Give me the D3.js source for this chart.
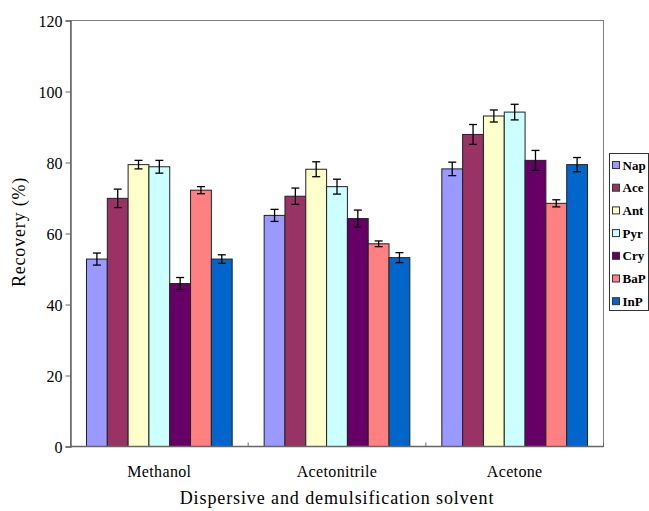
<!DOCTYPE html>
<html>
<head>
<meta charset="utf-8">
<script src="https://cdn.jsdelivr.net/npm/d3@7"></script>
<style>
  body { margin: 0; background: #fff; }
  svg { display: block; }
</style>
</head>
<body>
<svg id="chart" width="649" height="511"></svg>
<script>
const categories = ["Methanol", "Acetonitrile", "Acetone"];
const series = ["Nap", "Ace", "Ant", "Pyr", "Cry", "BaP", "InP"];
const colors = ["#9999FF", "#993366", "#FFFFCC", "#CCFFFF", "#660066", "#FF8080", "#0066CC"];
// values[series][category]
const values = [
  [52.8, 65.1, 78.2],
  [69.9, 70.5, 87.9],
  [79.4, 78.1, 93.1],
  [78.8, 73.2, 94.2],
  [45.9, 64.2, 80.6],
  [72.2, 57.1, 68.5],
  [52.8, 53.2, 79.4]
];
const errors = [
  [1.7, 1.7, 1.9],
  [2.6, 2.3, 2.8],
  [1.2, 2.1, 1.7],
  [1.8, 2.1, 2.2],
  [1.7, 2.4, 2.8],
  [1.0, 0.8, 1.0],
  [1.2, 1.4, 2.0]
];
const yTicks = [0, 20, 40, 60, 80, 100, 120];

(function () {
const FONT = "'Liberation Serif'";
const svg = d3.select("#chart");
const mLeft = 70.5, mRight = 603.5, mTop = 20.5, mBottom = 446.5;

const x0 = d3.scaleBand().domain(categories).range([mLeft, mRight]).paddingInner(0.18).paddingOuter(0.09);
const x1 = d3.scaleBand().domain(series).range([0, x0.bandwidth()]).padding(0);
const y = d3.scaleLinear().domain([0, 120]).range([mBottom, mTop]);

// plot frame
svg.append("rect")
  .attr("x", mLeft).attr("y", mTop)
  .attr("width", mRight - mLeft).attr("height", mBottom - mTop)
  .attr("fill", "none").attr("stroke", "#808080").attr("stroke-width", 1);

// bars
const groups = svg.append("g").selectAll("g")
  .data(categories).join("g")
  .attr("transform", d => `translate(${x0(d)},0)`);

series.forEach((s, si) => {
  groups.append("rect")
    .attr("x", () => x1(s))
    .attr("y", (c, ci) => y(values[si][ci]))
    .attr("width", x1.bandwidth())
    .attr("height", (c, ci) => y(0) - y(values[si][ci]))
    .attr("fill", colors[si])
    .attr("stroke", "#222")
    .attr("stroke-width", 1);
});

// error bars
series.forEach((s, si) => {
  const cx = x1(s) + x1.bandwidth() / 2;
  groups.each(function (c, ci) {
    const g = d3.select(this);
    const v = values[si][ci], e = errors[si][ci];
    const yh = y(v + e), yl = y(v - e);
    g.append("line").attr("x1", cx).attr("x2", cx).attr("y1", yh).attr("y2", yl)
      .attr("stroke", "#000").attr("stroke-width", 1.3);
    [yh, yl].forEach(yy => g.append("line")
      .attr("x1", cx - 4).attr("x2", cx + 4).attr("y1", yy).attr("y2", yy)
      .attr("stroke", "#000").attr("stroke-width", 1.3));
  });
});

// y axis
const yAxis = d3.axisLeft(y).tickValues(yTicks).tickSize(5).tickPadding(3).tickFormat(d3.format("d"));
const ya = svg.append("g").attr("transform", `translate(${mLeft},0)`).call(yAxis);
ya.attr("font-family", null).attr("font-size", null);
ya.select(".domain").attr("stroke", "#666").attr("stroke-width", 1.5);
ya.selectAll(".tick line").attr("stroke", "#666");
ya.selectAll(".tick text").attr("fill", "#000").attr("dy", "0.35em")
  .style("font-family", FONT).style("font-size", "16px");

// x axis
svg.append("line").attr("x1", mLeft).attr("x2", mRight).attr("y1", mBottom).attr("y2", mBottom)
  .attr("stroke", "#666").attr("stroke-width", 1.5);
const bounds = [0, 1, 2, 3].map(i => mLeft + i * x0.step());
svg.append("g").selectAll("line").data(bounds).join("line")
  .attr("x1", d => d).attr("x2", d => d).attr("y1", mBottom).attr("y2", mBottom - 4)
  .attr("stroke", "#666");
svg.append("g").selectAll("text").data(categories).join("text")
  .attr("x", d => x0(d) + x0.bandwidth() / 2)
  .attr("y", 477)
  .attr("text-anchor", "middle")
  .style("font-family", FONT)
  .style("font-size", "16px")
  .style("letter-spacing", "0.35px")
  .text(d => d);

// axis titles
svg.append("text")
  .attr("x", (mLeft + mRight) / 2).attr("y", 504)
  .attr("text-anchor", "middle")
  .style("font-family", FONT)
  .style("font-size", "18px")
  .style("letter-spacing", "0.9px")
  .text("Dispersive and demulsification solvent");
svg.append("text")
  .attr("transform", "translate(25,232) rotate(-90)")
  .attr("text-anchor", "middle")
  .style("font-family", FONT)
  .style("font-size", "18px")
  .style("letter-spacing", "0.8px")
  .text("Recovery (%)");

// legend
const lx = 609.5, ly = 153.5;
svg.append("rect").attr("x", lx).attr("y", ly).attr("width", 39).attr("height", 157)
  .attr("fill", "#fff").attr("stroke", "#333").attr("stroke-width", 1);
const leg = svg.append("g").selectAll("g").data(series).join("g")
  .attr("transform", (d, i) => `translate(${lx + 3},${ly + 11.5 + i * 22.7})`);
leg.append("rect").attr("x", 0).attr("y", -3.5).attr("width", 7).attr("height", 7)
  .attr("fill", (d, i) => colors[i]).attr("stroke", "#333").attr("stroke-width", 1);
leg.append("text").attr("x", 10).attr("y", 0).attr("dy", "0.35em")
  .style("font-family", FONT)
  .style("font-size", "13px").style("font-weight", "bold")
  .text(d => d);
})();
</script>
</body>
</html>
